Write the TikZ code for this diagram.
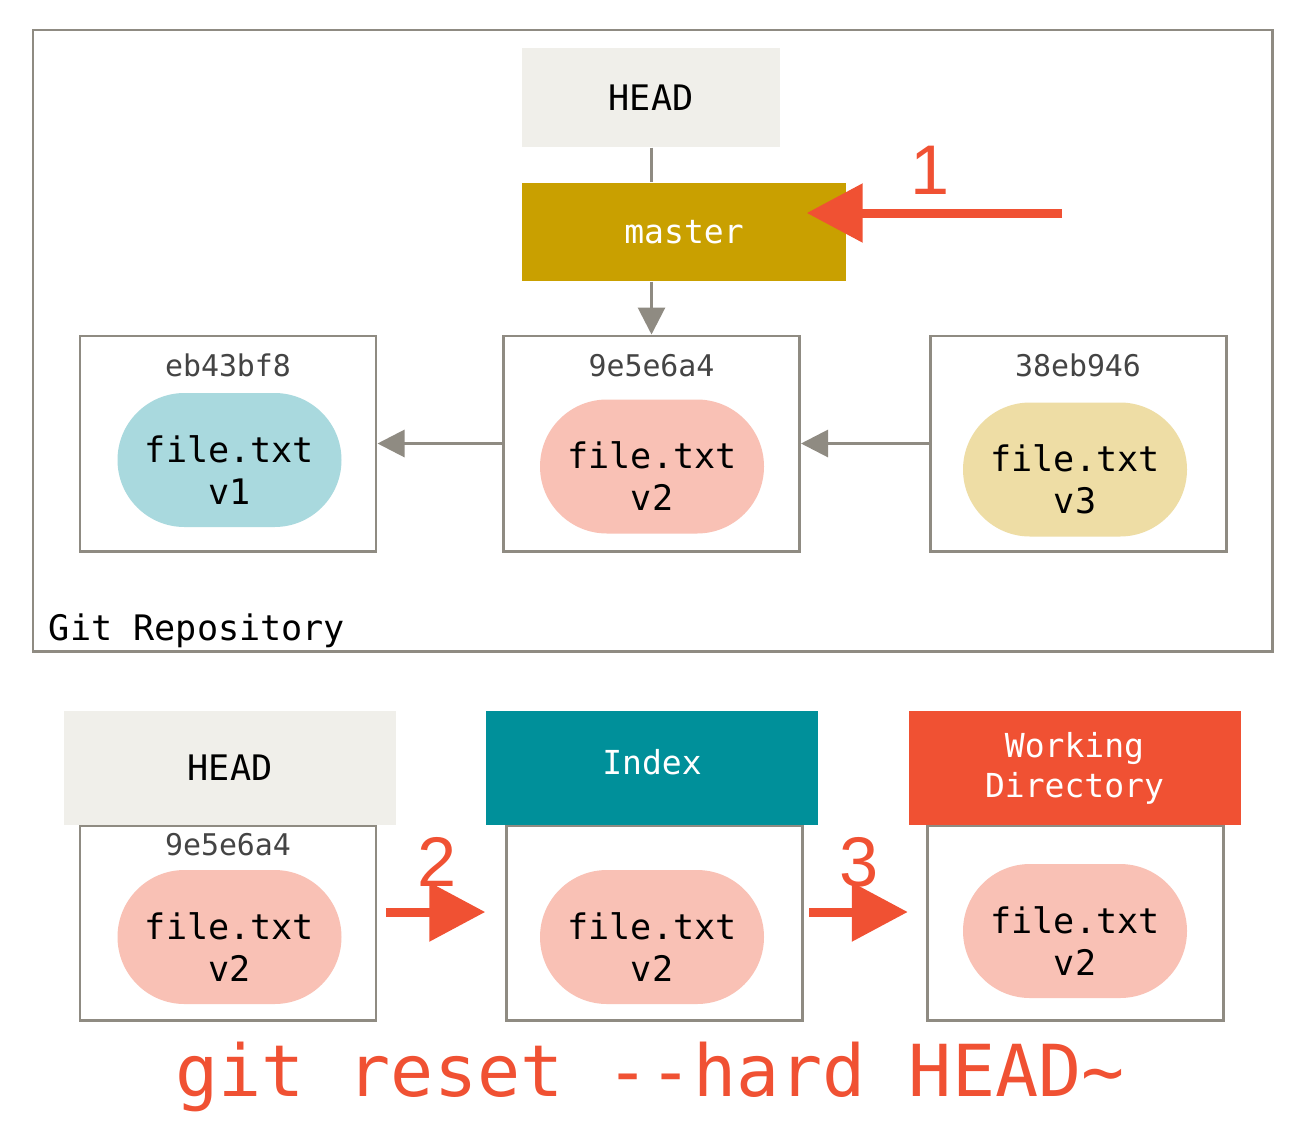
\documentclass[tikz,border=0pt]{standalone}
\usepackage{fontspec}
\setmonofont{DejaVu Sans Mono}
\newfontfamily\numfont{Liberation Sans}
\usetikzlibrary{arrows.meta}

\definecolor{gitgray}{HTML}{8F8B82}
\definecolor{gitred}{HTML}{F05133}
\definecolor{headfill}{HTML}{F0EFEA}
\definecolor{masterfill}{HTML}{C9A000}
\definecolor{indexfill}{HTML}{00909A}
\definecolor{blobblue}{HTML}{A9D9DE}
\definecolor{blobpink}{HTML}{F9C1B5}
\definecolor{blobyellow}{HTML}{EEDDA5}
\definecolor{hashtext}{HTML}{444444}

\begin{document}
\begin{tikzpicture}[
    font=\ttfamily,
    frame/.style={draw=gitgray, line width=0.85pt, inner sep=0pt},
    commit/.style={draw=gitgray, line width=0.85pt, fill=white, minimum width=2.96cm, minimum height=2.15cm},
    treebox/.style={draw=gitgray, line width=0.85pt, fill=white, minimum width=2.96cm, minimum height=1.95cm},
    header/.style={minimum width=3.32cm, minimum height=1.14cm, align=center, font=\ttfamily\fontsize{9.4}{11.4}\selectfont},
    hash/.style={text=hashtext, font=\ttfamily\fontsize{8.5}{10}\selectfont},
    blob/.style={rounded corners=0.67cm, minimum width=2.24cm, minimum height=1.34cm, align=center,
        text height=25.3pt, text depth=0pt, font=\ttfamily\fontsize{10}{12}\selectfont},
    ptr/.style={draw=gitgray, line width=0.85pt},
    grayarrow/.style={ptr, -{Triangle[length=0.27cm, width=0.27cm]}},
    redarrow/.style={draw=gitred, line width=0.09cm, -{Triangle[length=0.56cm, width=0.57cm]}},
    step num/.style={text=gitred, font=\numfont\fontsize{20}{24}\selectfont}
]
\useasboundingbox (0,0) rectangle (13.02,-11.43);

% Repository frame
\node[frame, minimum width=12.39cm, minimum height=6.21cm] (repo) at (6.525,-3.405) {};
\node[anchor=base west, font=\ttfamily\fontsize{10}{12}\selectfont] (repolabel) at ([shift={(0.05,0.12)}]repo.south west) {Git Repository};

% HEAD and master on top
\node[fill=headfill, minimum width=2.58cm, minimum height=0.99cm, font=\ttfamily\fontsize{10}{12}\selectfont] (headtop) at (6.51,-0.975) {HEAD};
\node[fill=masterfill, text=white, minimum width=3.24cm, minimum height=0.98cm, font=\ttfamily\fontsize{9.4}{11}\selectfont] (master) at (6.84,-2.32) {master};

% Commits
\node[commit] (c1) at (2.28,-4.435) {};
\node[commit] (c2) at (6.515,-4.435) {};
\node[commit] (c3) at (10.78,-4.435) {};

\node[hash] (h1) at ([yshift=-0.31cm]c1.north) {eb43bf8};
\node[hash] (h2) at ([yshift=-0.31cm]c2.north) {9e5e6a4};
\node[hash] (h3) at ([yshift=-0.31cm]c3.north) {38eb946};

\node[blob, fill=blobblue] (b1) at (2.295,-4.60) {file.txt\\v1};
\node[blob, fill=blobpink] (b2) at (6.52,-4.665) {file.txt\\v2};
\node[blob, fill=blobyellow] (b3) at (10.75,-4.695) {file.txt\\v3};

% Pointers
\draw[ptr] (headtop.south) -- (headtop.south |- master.north);
\draw[grayarrow] (master.south -| c2.north) -- (c2.north);
\draw[grayarrow] (c2.west) -- (c1.east);
\draw[grayarrow] (c3.west) -- (c2.east);

% Step 1: move master
\coordinate (one) at (10.62,-2.13);
\coordinate (onetip) at ([xshift=-0.4cm,yshift=0.19cm]master.east);
\draw[redarrow] (one) -- (onetip);
\node[step num] (n1) at (9.30,-1.70) {1};

% Three trees (boxes first, headers on top)
\node[treebox] (t1) at (2.28,-9.225) {};
\node[treebox] (t2) at (6.54,-9.225) {};
\node[treebox] (t3) at (10.75,-9.225) {};

\node[header, fill=headfill, font=\ttfamily\fontsize{10}{12}\selectfont] (headbot) at (2.30,-7.68) {HEAD};
\node[header, fill=indexfill, text=white, text depth=0.12cm] (index) at (6.52,-7.68) {Index};
\node[header, fill=gitred, text=white] (work) at (10.745,-7.68) {Working\\Directory};

\node[hash] (h4) at ([yshift=-0.21cm]t1.north) {9e5e6a4};

\node[blob, fill=blobpink] (b4) at (2.295,-9.37) {file.txt\\v2};
\node[blob, fill=blobpink] (b5) at (6.52,-9.37) {file.txt\\v2};
\node[blob, fill=blobpink] (b6) at (10.75,-9.31) {file.txt\\v2};

% Steps 2 and 3
\coordinate (two) at (3.86,-9.12);
\coordinate (three) at (8.09,-9.12);
\draw[redarrow] (two) -- (two -| index.west);
\draw[redarrow] (three) -- (three -| work.west);
\node[step num] (n2) at (4.37,-8.62) {2};
\node[step num] (n3) at (8.59,-8.62) {3};

% Command
\node[text=gitred, font=\ttfamily\fontsize{20.4}{24}\selectfont] (cmd) at (6.50,-10.77) {git reset -{}-hard HEAD\textasciitilde};

\end{tikzpicture}
\end{document}
